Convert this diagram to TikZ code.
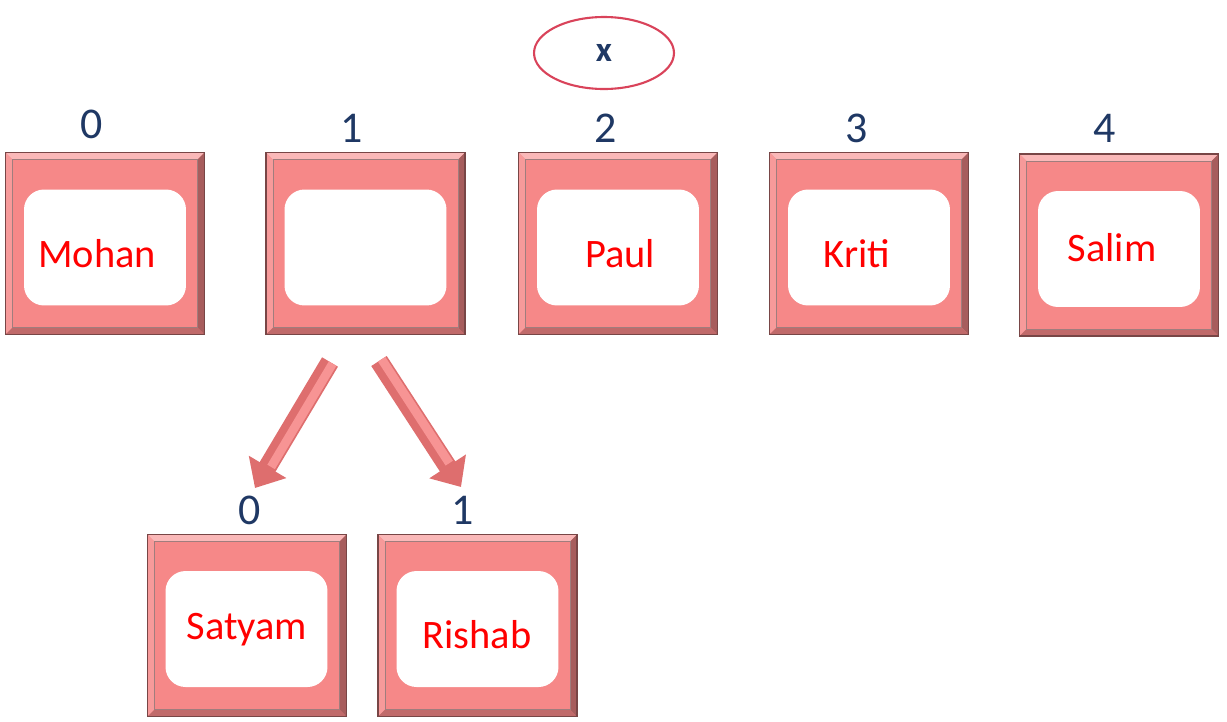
\documentclass[tikz,border=0pt]{standalone}
\usepackage{fontspec}
\setmainfont{Carlito}
\usetikzlibrary{arrows.meta,shapes.geometric}

\definecolor{cellfill}{RGB}{246,136,136}
\definecolor{celledge}{RGB}{120,70,70}
\definecolor{idxblue}{RGB}{31,56,100}
\definecolor{entryred}{RGB}{255,0,0}
\definecolor{ovalred}{RGB}{217,67,90}
\definecolor{arrowfill}{RGB}{222,110,110}

\tikzset{
  cell/.style={draw=celledge, fill=cellfill, line width=0.6pt, minimum width=3.96cm, minimum height=3.62cm, inner sep=0pt},
  slot/.style={fill=white, rounded corners=0.4cm, minimum width=3.24cm, minimum height=2.32cm, inner sep=0pt},
  entry/.style={text=entryred, font=\fontsize{23}{26}\selectfont, inner sep=0pt},
  idx/.style={text=idxblue, font=\fontsize{25}{28}\selectfont, inner sep=0pt},
  pointer/.style={arrowfill, line width=10.5pt, -{Triangle[length=14pt,width=24pt]}},
  ridge/.style={cellfill!90!white, line width=5pt, shorten >=15pt}
}

% bevel of a cell: light top/left, dark right/bottom
\newcommand{\bevelcell}[1]{%
  \fill[cellfill!60!white] (#1.north west) -- (#1.north east) -- ([shift={(-7,7)}]#1.north east) -- ([shift={(7,7)}]#1.north west) -- cycle;
  \fill[cellfill!85!white] (#1.north west) -- (#1.south west) -- ([shift={(7,-7)}]#1.south west) -- ([shift={(7,7)}]#1.north west) -- cycle;
  \fill[cellfill!68!black] (#1.north east) -- (#1.south east) -- ([shift={(-7,-7)}]#1.south east) -- ([shift={(-7,7)}]#1.north east) -- cycle;
  \fill[cellfill!78!black] (#1.south west) -- (#1.south east) -- ([shift={(-7,-7)}]#1.south east) -- ([shift={(7,-7)}]#1.south west) -- cycle;
  \draw[celledge, line width=0.6pt] (#1.north west) rectangle (#1.south east);
  \draw[celledge!70, line width=0.4pt] ([shift={(7,7)}]#1.north west) rectangle ([shift={(-7,-7)}]#1.south east);
}

\begin{document}
\begin{tikzpicture}[x=0.02cm, y=-0.02cm]
  \useasboundingbox (0,0) rectangle (1227,721);

  % variable x
  \node[ellipse, draw=ovalred, line width=1.2pt, minimum width=2.8cm, minimum height=1.44cm, text=idxblue, font=\bfseries\fontsize{20}{22}\selectfont] (var) at (604,53) {x};

  % top row of the table
  \foreach \k/\cx/\cy/\who/\tx/\ty/\lx/\ly in {0/105/243.5/Mohan/97/254/92/124, 1/365.5/243.5//365/254/352/128, 2/618/243.5/Paul/620/254/606/128, 3/869/243.5/Kriti/857/254/857/128, 4/1119/245/Salim/1112/248/1105/128} {
    \node[cell] (cell\k) at (\cx,\cy) {};
    \bevelcell{cell\k}
    \node[slot] (slot\k) at (\cx,\cy+4) {};
    \node[entry] (who\k) at (\tx,\ty) {\who};
    \node[idx] (idx\k) at (\lx,\ly) {\k};
  }

  % chained list under slot 1
  \node[cell] (sub0) at (247,625.5) {};
  \bevelcell{sub0}
  \node[slot] (subslot0) at (246.5,629) {};
  \node[entry] (subwho0) at (247,630) {Satyam};
  \node[idx] (subidx0) at (250,510) {0};

  \node[cell] (sub1) at (477.5,625.5) {};
  \bevelcell{sub1}
  \node[slot] (subslot1) at (477.5,629) {};
  \node[entry] (subwho1) at (477,635) {Rishab};
  \node[idx] (subidx1) at (463,510) {1};

  % pointers
  \coordinate (tail0) at (330,362);
  \coordinate (tip0) at (255,488);
  \coordinate (tail1) at (379,361);
  \coordinate (tip1) at (461,487);
  \draw[pointer] (tail0) -- (tip0);
  \draw[ridge, transform canvas={shift={(1.5pt,-0.9pt)}}] (tail0) -- (tip0);
  \draw[pointer] (tail1) -- (tip1);
  \draw[ridge, transform canvas={shift={(1.5pt,1pt)}}] (tail1) -- (tip1);
\end{tikzpicture}
\end{document}
